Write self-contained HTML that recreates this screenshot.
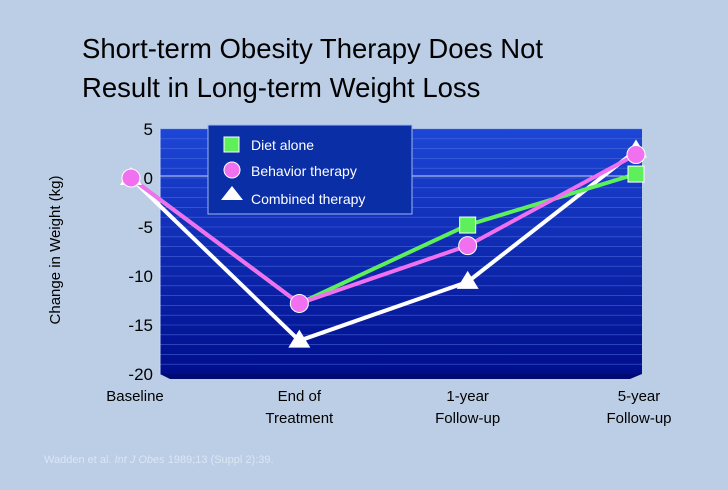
<!DOCTYPE html>
<html><head><meta charset="utf-8"><style>
body{margin:0;width:728px;height:485px;background:#bccee6;overflow:hidden;font-family:"Liberation Sans",sans-serif}
</style></head><body>
<svg width="728" height="485" xmlns="http://www.w3.org/2000/svg" font-family="Liberation Sans, sans-serif">
<defs>
<linearGradient id="bg" x1="0" y1="0" x2="0" y2="1"><stop offset="0" stop-color="#1d46d6"/><stop offset="1" stop-color="#000e8c"/></linearGradient>
</defs>
<text x="82" y="58" font-size="27.5" fill="#000">Short-term Obesity Therapy Does Not</text>
<text x="82" y="97" font-size="27.5" fill="#000">Result in Long-term Weight Loss</text>
<text transform="translate(60,250) rotate(-90)" text-anchor="middle" font-size="15" fill="#000">Change in Weight (kg)</text>
<g id="plot"></g>
<text x="44" y="463" font-size="11" fill="#dbe6f4">Wadden et al. <tspan font-style="italic">Int J Obes</tspan> 1989;13 (Suppl 2):39.</text>
</svg>
<script>
const categories=["Baseline","End of|Treatment","1-year|Follow-up","5-year|Follow-up"];
const dietAlone=[0,-12.8,-4.8,0.4];
const behaviorTherapy=[0,-12.8,-6.9,2.4];
const combinedTherapy=[0,-16.6,-10.6,2.8];
const yTicks=[5,0,-5,-10,-15,-20];
const NS="http://www.w3.org/2000/svg";
const g=document.getElementById('plot');
const X0=131,X1=636,Y0=178,PPU=9.8;
const x=i=>X0+i*(X1-X0)/(categories.length-1);
const y=v=>Y0-v*PPU;
function mk(t,a,p){const e=document.createElementNS(NS,t);for(const k in a)e.setAttribute(k,a[k]);(p||g).appendChild(e);return e;}
let wall=mk('rect',{x:160,y:y(5),width:482,height:y(-20)-y(5),fill:'url(#bg)'});


mk('polygon',{points:`160,${y(-20)} 642,${y(-20)} 630,${y(-20)+5} 170,${y(-20)+5}`,fill:'#000a70'});
for(let v=5;v>-20;v-=1){mk('line',{x1:160,x2:642,y1:y(v),y2:y(v),stroke:'#5c7ee8','stroke-width':0.6,opacity:0.7});}
mk('line',{x1:160,x2:642,y1:y(0)-2,y2:y(0)-2,stroke:'#c8d6f4','stroke-width':1});
mk('line',{x1:160,x2:160,y1:y(5),y2:y(-20),stroke:'#c8d6f4','stroke-width':1});
yTicks.forEach(v=>{const t=mk('text',{x:153,y:y(v)+6,'text-anchor':'end','font-size':17,fill:'#000'});t.textContent=v;

});
categories.forEach((c,i)=>{c.split('|').forEach((s,j)=>{const t=mk('text',{x:x(i)+(i==0?4:i==3?3:0),y:401+j*22,'text-anchor':'middle','font-size':15,fill:'#000'});t.textContent=s;

});});
function line(arr,color,name){const pts=arr.map((v,i)=>x(i)+','+y(v)).join(' ');const p=mk('polyline',{points:pts,fill:'none',stroke:color,'stroke-width':4,'stroke-linejoin':'round'});

}
line(combinedTherapy,'#ffffff','combined-line');
line(dietAlone,'#5ef05a','diet-line');
line(behaviorTherapy,'#f070f0','behavior-line');
combinedTherapy.forEach((v,i)=>{const m=mk('polygon',{points:`${x(i)},${y(v)-11} ${x(i)-11},${y(v)+7} ${x(i)+11},${y(v)+7}`,fill:'#fff'});

});
dietAlone.forEach((v,i)=>{if(i<2)return;const m=mk('rect',{x:x(i)-8,y:y(v)-8,width:16,height:16,fill:'#5ef05a',stroke:'#fff','stroke-width':1});

});
behaviorTherapy.forEach((v,i)=>{const m=mk('circle',{cx:x(i),cy:y(v),r:9,fill:'#f070f0',stroke:'#fff','stroke-width':1});

});
const lg=mk('g',{});


mk('rect',{x:208,y:125,width:204,height:89,fill:'#0a2ea6',stroke:'#9fb6f0','stroke-width':1},lg);
mk('rect',{x:224,y:137,width:15,height:15,fill:'#5ef05a',stroke:'#fff','stroke-width':1},lg);
mk('circle',{cx:232,cy:170,r:8,fill:'#f070f0',stroke:'#fff','stroke-width':1},lg);
mk('polygon',{points:'232,186 221,200 243,200',fill:'#fff'},lg);
[['Diet alone',150],['Behavior therapy',176],['Combined therapy',204]].forEach(([s,yy])=>{const t=mk('text',{x:251,y:yy,'font-size':14,fill:'#fff'},lg);t.textContent=s;

});
</script>
</body></html>
